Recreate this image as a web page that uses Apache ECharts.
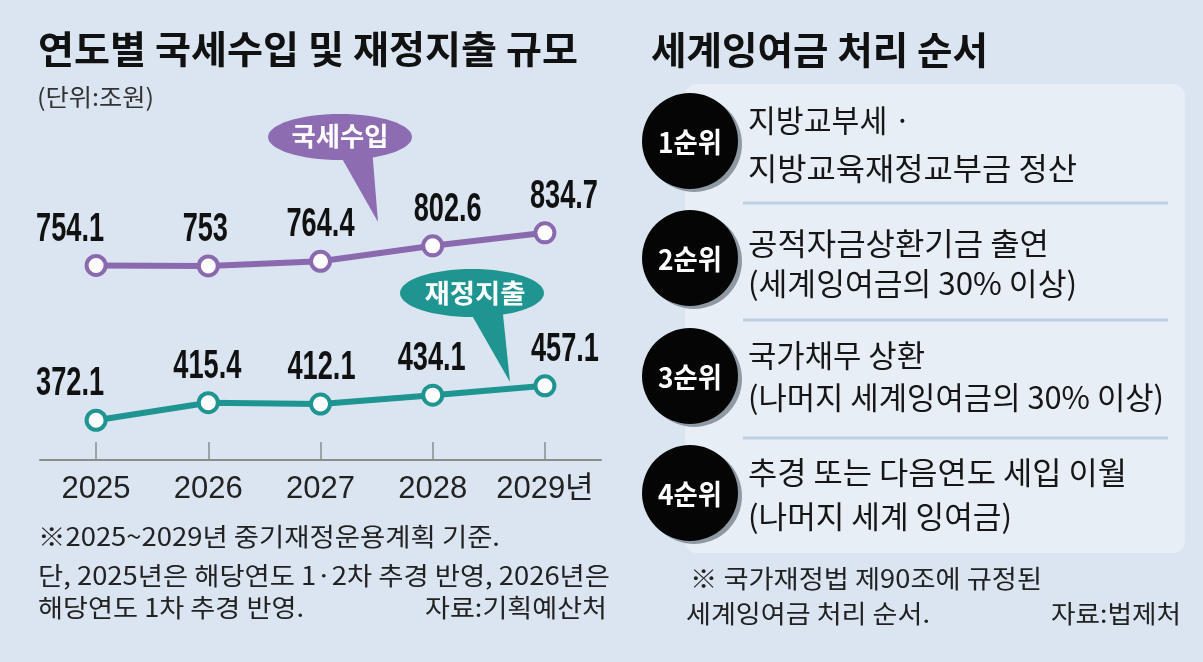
<!DOCTYPE html>
<html><head><meta charset="utf-8">
<script src="https://cdn.jsdelivr.net/npm/echarts@6/dist/echarts.min.js"></script>
<style>html,body{margin:0;padding:0;background:#dbe5f1}#c{width:1203px;height:662px}</style>
</head><body><div id="c"></div>
<script>
// ---- data ----
const years = ['2025', '2026', '2027', '2028', '2029'];
const yearLabels = ['2025', '2026', '2027', '2028', '2029년'];
const revenue = [754.1, 753, 764.4, 802.6, 834.7];      // 국세수입
const spending = [372.1, 415.4, 412.1, 434.1, 457.1];   // 재정지출
const seriesNames = ['국세수입', '재정지출'];
const ranks = ['1순위', '2순위', '3순위', '4순위'];
const rankLines = [
  ['지방교부세 ·', '지방교육재정교부금 정산'],
  ['공적자금상환기금 출연', '(세계잉여금의 30% 이상)'],
  ['국가채무 상환', '(나머지 세계잉여금의 30% 이상)'],
  ['추경 또는 다음연도 세입 이월', '(나머지 세계 잉여금)']
];

// ---- style ----
const PURPLE = '#8b69ae', TEAL = '#1f9591';
const KR = '"Noto Sans CJK KR", "Noto Sans CJK SC", sans-serif';
const NUMFONT = 'bold 40px "Liberation Sans", Arial, sans-serif';
const shiftRev = [-26, -3, 0, 15, 19];
const shiftSpd = [-26, -1, 1, -1, 20];

const mctx = document.createElement('canvas').getContext('2d');
function fitScale(text, font, w) { mctx.font = font; const m = mctx.measureText(text).width; return m > 0 ? w / m : 1; }
const NUMSCALE = fitScale('754.1', NUMFONT, 68);
function txt(text, x, y, w, size, weight, color, align) {
  align = align || 'left';
  const font = weight + ' ' + size + 'px ' + KR;
  return { type: 'text', x: x, y: y, scaleX: fitScale(text, font, w), z: 10,
    style: { text: text, font: font, fill: color, textAlign: align, textVerticalAlign: 'middle', align: align, verticalAlign: 'middle' } };
}

const g = [];
// right panel box
g.push({ type: 'rect', shape: { x: 685, y: 84, width: 500, height: 469, r: 12 }, style: { fill: '#e8eef6' }, z: 1 });
// separators
[203, 320, 438].forEach(function (y) {
  g.push({ type: 'line', shape: { x1: 743, y1: y, x2: 1168, y2: y }, style: { stroke: '#bdd0e3', lineWidth: 3 }, z: 2 });
});
// rank circles
const cy = [141, 258, 376, 493];
ranks.forEach(function (r, i) {
  g.push({ type: 'circle', shape: { cx: 694, cy: cy[i] + 3, r: 48 }, style: { fill: '#8f99a3' }, z: 3 });
  g.push({ type: 'circle', shape: { cx: 690, cy: cy[i], r: 48 }, style: { fill: '#050505' }, z: 4 });
  g.push(txt(r, 690, cy[i] + 1, 64, 28, 'bold', '#ffffff', 'center'));
});
// rank texts
const lineY = [[120, 168], [243, 283], [355, 397], [472, 516]];
const lineW = [[163, 329], [301, 329], [177, 416], [379, 264]];
rankLines.forEach(function (ls, i) {
  ls.forEach(function (t, j) { g.push(txt(t, 748, lineY[i][j], lineW[i][j], 31, 'normal', '#161616')); });
});
// titles
g.push(txt('연도별 국세수입 및 재정지출 규모', 38, 49, 540, 38, 'bold', '#111111'));
g.push(txt('세계잉여금 처리 순서', 651, 50, 337, 38, 'bold', '#111111'));
g.push(txt('(단위:조원)', 37, 97, 117, 24, 'normal', '#333333'));
// bubbles
g.push({ type: 'polygon', shape: { points: [[336, 148], [372, 148], [378, 222]] }, style: { fill: '#8e6cb1' }, z: 5 });
g.push({ type: 'ellipse', shape: { cx: 340, cy: 137, rx: 72, ry: 23 }, style: { fill: '#8e6cb1' }, z: 5 });
g.push(txt(seriesNames[0], 340, 136, 97, 26, 'bold', '#ffffff', 'center'));
g.push({ type: 'polygon', shape: { points: [[466, 305], [502, 305], [510, 382]] }, style: { fill: TEAL }, z: 5 });
g.push({ type: 'ellipse', shape: { cx: 472, cy: 293, rx: 72, ry: 24 }, style: { fill: TEAL }, z: 5 });
g.push(txt(seriesNames[1], 475, 293, 101, 26, 'bold', '#ffffff', 'center'));
// footnotes
g.push(txt('※2025~2029년 중기재정운용계획 기준.', 38, 536, 462, 25, 'normal', '#222222'));
g.push(txt('단, 2025년은 해당연도 1·2차 추경 반영, 2026년은', 38, 575, 572, 25, 'normal', '#222222'));
g.push(txt('해당연도 1차 추경 반영.', 38, 607, 266, 25, 'normal', '#222222'));
g.push(txt('자료:기획예산처', 607, 607, 182, 25, 'normal', '#222222', 'right'));
g.push(txt('※ 국가재정법 제90조에 규정된', 690, 578, 352, 25, 'normal', '#222222'));
g.push(txt('세계잉여금 처리 순서.', 686, 613, 244, 25, 'normal', '#222222'));
g.push(txt('자료:법제처', 1181, 613, 130, 25, 'normal', '#222222', 'right'));

function labelSeries(vals, shifts) {
  return {
    type: 'custom', z: 5, silent: true,
    data: vals.map(function (v, i) { return [i, v]; }),
    renderItem: function (params, api) {
      const p = api.coord([api.value(0), api.value(1)]);
      return { type: 'text', x: p[0] + shifts[params.dataIndex], y: p[1] - 36, scaleX: NUMSCALE,
        style: { text: String(vals[params.dataIndex]), font: NUMFONT, fill: '#111111',
          textAlign: 'center', textVerticalAlign: 'middle', align: 'center', verticalAlign: 'middle' } };
    }
  };
}

const chart = echarts.init(document.getElementById('c'), null, { renderer: 'canvas' });
chart.setOption({
  backgroundColor: '#dbe5f1',
  animation: false,
  grid: { left: 40, right: 602, top: 161, bottom: 202 },
  xAxis: {
    type: 'category', data: years, boundaryGap: true,
    axisLine: { lineStyle: { color: '#8c8c8c', width: 2 } },
    axisTick: { show: true, alignWithLabel: true, inside: true, length: 18, lineStyle: { color: '#8c8c8c', width: 1.5 } },
    axisLabel: { interval: 0, margin: 14, fontSize: 31, color: '#222222', fontFamily: '"Liberation Sans", ' + KR,
      formatter: function (v, i) { return yearLabels[i]; } }
  },
  yAxis: { type: 'value', min: 274, max: 1012, show: false, splitLine: { show: false } },
  series: [
    { name: seriesNames[0], type: 'line', data: revenue, symbol: 'circle', symbolSize: 19,
      lineStyle: { color: PURPLE, width: 6 }, itemStyle: { color: '#ffffff', borderColor: PURPLE, borderWidth: 4 }, z: 3 },
    { name: seriesNames[1], type: 'line', data: spending, symbol: 'circle', symbolSize: 19,
      lineStyle: { color: TEAL, width: 6 }, itemStyle: { color: '#ffffff', borderColor: TEAL, borderWidth: 4 }, z: 3 },
    labelSeries(revenue, shiftRev),
    labelSeries(spending, shiftSpd)
  ],
  graphic: g
});
</script></body></html>
